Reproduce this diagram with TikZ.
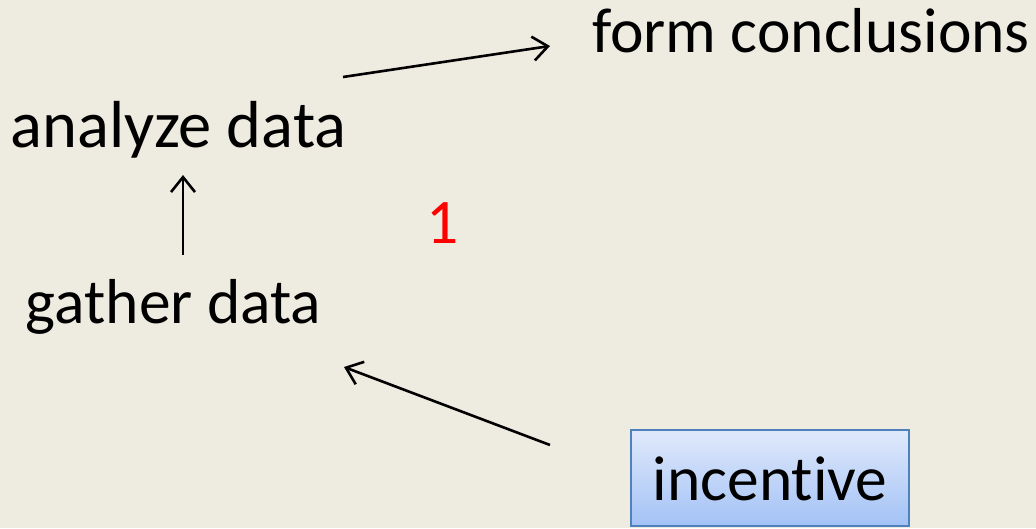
\documentclass[tikz,border=0pt]{standalone}
\usepackage{fontspec}
\setmainfont[Ligatures=NoCommon]{Carlito}
\usetikzlibrary{arrows.meta,shadings}
\definecolor{bgc}{RGB}{238,236,225}
\definecolor{boxtop}{RGB}{224,233,251}
\definecolor{boxbot}{RGB}{163,194,246}
\definecolor{boxline}{RGB}{79,129,189}
\begin{document}
\begin{tikzpicture}[x=1pt,y=1pt,
  lbl/.style={inner sep=0pt,anchor=base,font=\fontsize{63.5}{74}\selectfont},
  big/.style={font=\fontsize{66.5}{78}\selectfont},
  conn/.style={line width=2.6pt,-{Straight Barb[length=15pt,width=24pt,line width=2.6pt]}},
  incbox/.style={lbl,draw=boxline,line width=1.5pt,top color=boxtop,bottom color=boxbot,
     minimum width=278pt,text height=70pt,text depth=26pt}]
\fill[bgc] (0,0) rectangle (1036,-528);
\useasboundingbox (0,0) rectangle (1036,-528);
\node[lbl] (fc) at (811,-52) {form conclusions};
\node[lbl,big] (ana) at (178.5,-147) {analyze data};
\node[lbl] (gat) at (173.5,-323) {gather data};
\node[lbl,text=red] (one) at (443,-243) {1};
\node[incbox] (inc) at (770,-500) {incentive};
\draw[conn] ([shift={(164.5,70)}]ana.base) -- ([shift={(-261,6)}]fc.base);
\draw[conn] ([shift={(9.5,68)}]gat.base) -- ([shift={(4.5,-28)}]ana.base);
\draw[conn] ([shift={(-220,55)}]inc.base) -- ([shift={(170.5,-44)}]gat.base);
\end{tikzpicture}
\end{document}
